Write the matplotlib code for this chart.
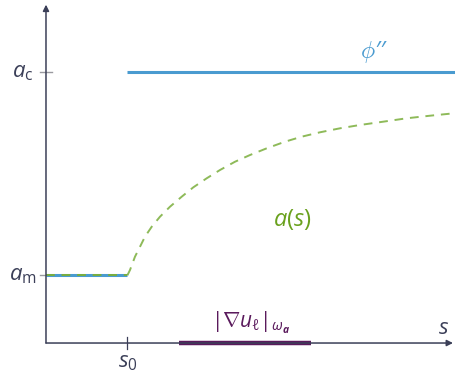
import numpy as np
import matplotlib.pyplot as plt

plt.rcParams['mathtext.fontset'] = 'custom'
plt.rcParams['mathtext.rm'] = 'Open Sans'
plt.rcParams['mathtext.it'] = 'Open Sans:italic'
plt.rcParams['mathtext.bf'] = 'Open Sans:bold:italic'
plt.rcParams['font.family'] = ['Open Sans', 'DejaVu Sans']

# levels and breakpoint
s0 = 1.0
a_m = 1.0
a_c = 4.0
s_end = 5.04

# sampled a(s) for s >= s0
curve_s = [1.0, 1.032, 1.093, 1.155, 1.216, 1.299, 1.400, 1.523, 1.667, 1.810,
           1.974, 2.138, 2.322, 2.506, 2.711, 2.936, 3.141, 3.366, 3.612, 3.857,
           4.144, 4.431, 4.717, 5.004, 5.04]
curve_a = [1.0, 1.079, 1.275, 1.423, 1.571, 1.719, 1.866, 2.014, 2.162, 2.301,
           2.434, 2.557, 2.679, 2.778, 2.877, 2.975, 3.049, 3.114, 3.173, 3.222,
           3.271, 3.321, 3.359, 3.394, 3.398]

# support of |grad u| on omega_a
grad_lo, grad_hi = 1.63, 3.26

blue = '#4a9bd0'
green = '#7aae3c'
green_txt = '#6aa11e'
purple = '#5a1a5c'
axcol = '#3b3f58'
tickcol = '#9a9aa0'

fig = plt.figure(figsize=(4.56, 3.73), dpi=100)
ax = fig.add_axes([0, 0, 1, 1])
ax.set_xlim(-0.565, 5.037)
ax.set_ylim(-0.443, 5.069)
ax.axis('off')

# axes with arrows
ax.annotate('', xy=(5.0, 0), xytext=(0, 0),
            arrowprops=dict(arrowstyle='-|>', color=axcol, lw=1.1,
                            mutation_scale=9, shrinkA=0, shrinkB=0))
ax.annotate('', xy=(0, 5.0), xytext=(0, 0),
            arrowprops=dict(arrowstyle='-|>', color=axcol, lw=1.1,
                            mutation_scale=9, shrinkA=0, shrinkB=0))

# ticks
for yv in (a_m, a_c):
    ax.plot([-0.075, 0.075], [yv, yv], color=tickcol, lw=1.0, zorder=1)
ax.plot([s0, s0], [-0.09, 0.09], color=axcol, lw=0.9)

# phi'' (blue) and a(s) (green dashed)
ax.plot([0, s0], [a_m, a_m], color=blue, lw=2.2, solid_capstyle='butt')
ax.plot([s0, s_end], [a_c, a_c], color=blue, lw=2.2, solid_capstyle='butt')
ax.plot([0, s0], [a_m, a_m], color=green, lw=1.4, ls=(0, (4.5, 3.5)))
ax.plot(curve_s, curve_a, color=green, lw=1.4, ls=(0, (4.5, 3.5)), alpha=0.85)

# support segment on the s axis
ax.plot([grad_lo, grad_hi], [0, 0], color=purple, lw=3.2, solid_capstyle='butt')

fs = 16
ax.text(-0.283, a_c, r'$a_\mathrm{c}$', ha='center', va='center', fontsize=fs, color=axcol)
ax.text(-0.283, a_m, r'$a_\mathrm{m}$', ha='center', va='center', fontsize=fs, color=axcol)
ax.text(s0, -0.29, r'$s_0$', ha='center', va='center', fontsize=fs, color=axcol)
ax.text(4.88, 0.21, r'$s$', ha='center', va='center', fontsize=fs, color=axcol)
ax.text(4.03, 4.30, r"$\phi$" + "\u2032\u2032", ha='center', va='center',
        fontsize=fs + 1, color=blue, fontstyle='italic')
ax.text(3.03, 1.82, r'$a(s)$', ha='center', va='center', fontsize=fs + 1, color=green_txt)
ax.text(2.51, 0.30, r'$|\nabla u_\ell|_{\omega_\mathbf{a}}$', ha='center', va='center',
        fontsize=fs - 1, color=purple)

fig.savefig('out.png', dpi=100)
